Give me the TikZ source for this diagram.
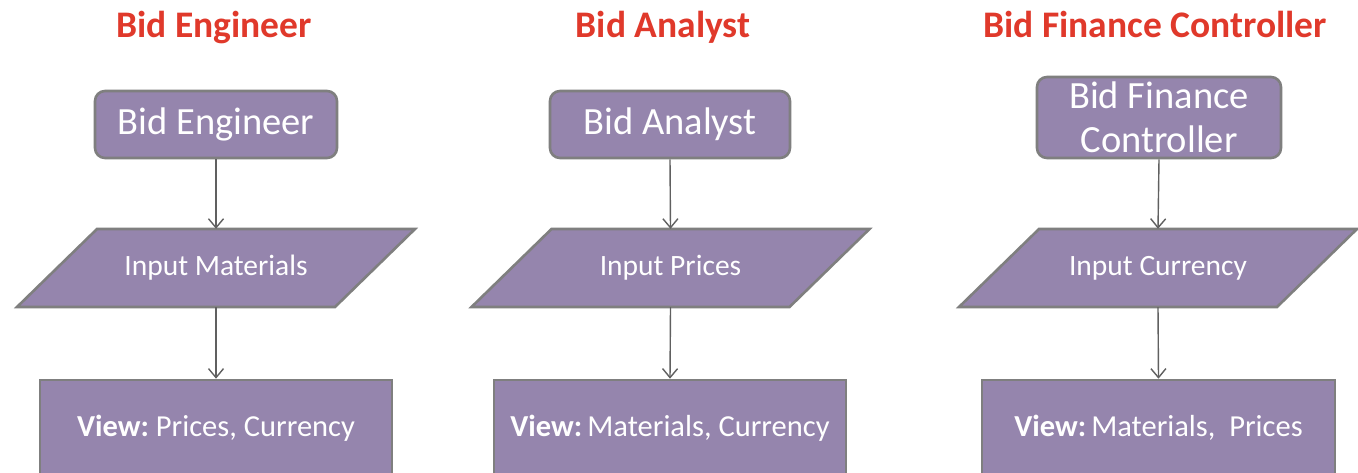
\documentclass[tikz,border=0pt]{standalone}
\usepackage{fontspec}
\setmainfont{Carlito}
\usetikzlibrary{arrows.meta,positioning}
\definecolor{boxfill}{HTML}{9585AD}
\definecolor{boxline}{HTML}{7F7F7F}
\definecolor{titlered}{HTML}{E0392B}
\definecolor{arrowgray}{HTML}{606060}
\tikzset{
  x=1pt, y=-1pt,
  titletext/.style={text=titlered, font=\fontsize{37.5}{44}\selectfont\bfseries, inner sep=0pt, anchor=base},
  rolebox/.style={draw=boxline, line width=2.6pt, fill=boxfill, rounded corners=10pt,
    text=white, font=\fontsize{38.5}{44}\selectfont, align=center, inner sep=0pt, minimum height=67pt},
  parabox/.style={draw=none, text=white, font=\fontsize{29.5}{34}\selectfont, inner sep=0pt,
    minimum width=318pt, minimum height=78pt},
  parashape/.style={draw=boxline, line width=2.6pt, fill=boxfill, line join=miter},
  viewbox/.style={draw=boxline, line width=2.6pt, fill=boxfill, text=white,
    font=\fontsize{30.5}{36}\selectfont, inner sep=0pt, minimum width=352pt, minimum height=96pt},
  flow/.style={draw=arrowgray, line width=1.4pt, -{Straight Barb[length=9pt,width=15pt,line width=1.4pt]}},
}
\begin{document}
\begin{tikzpicture}
\useasboundingbox (0,0) rectangle (1358,473);
\clip (0,0) rectangle (1358,473);
\fill[white] (0,0) rectangle (1358,473);

% Titles
\node[titletext] (t1) at (214,38) {Bid Engineer};
\node[titletext] (t2) at (663,38) {Bid Analyst};
\node[titletext] (t3) at (1155,38) {Bid Finance Controller};

% Role boxes
\node[rolebox, minimum width=242pt] (r1) at (216,124.5) {Bid Engineer};
\node[rolebox, minimum width=240pt] (r2) at (670,124.5) {Bid Analyst};
\node[rolebox, minimum width=244pt, minimum height=81pt] (r3) at (1159,117.5) {Bid Finance\\Controller};

% Parallelogram input nodes
\foreach \n/\cx/\txt in {p1/216/Input Materials, p2/670.5/Input Prices, p3/1158/Input Currency}{
  \path[parashape] (\cx+40-159,229) -- (\cx+40+159,229) -- (\cx-40+159,307) -- (\cx-40-159,307) -- cycle;
  \node[parabox] (\n) at (\cx,268) {\txt};
}

% View boxes
\node[viewbox] (v1) at (216,428) {\textbf{View:}\ Prices, Currency};
\node[viewbox] (v2) at (670,428) {\textbf{View:}\,Materials, Currency};
\node[viewbox, minimum width=353pt] (v3) at (1158.5,428) {\textbf{View:}\,Materials,\ \ Prices};

% Connectors
\foreach \i in {1,2,3}{
  \draw[flow] (r\i.south) -- (p\i.north);
  \draw[flow] (p\i.south) -- (v\i.north);
}
\end{tikzpicture}
\end{document}
